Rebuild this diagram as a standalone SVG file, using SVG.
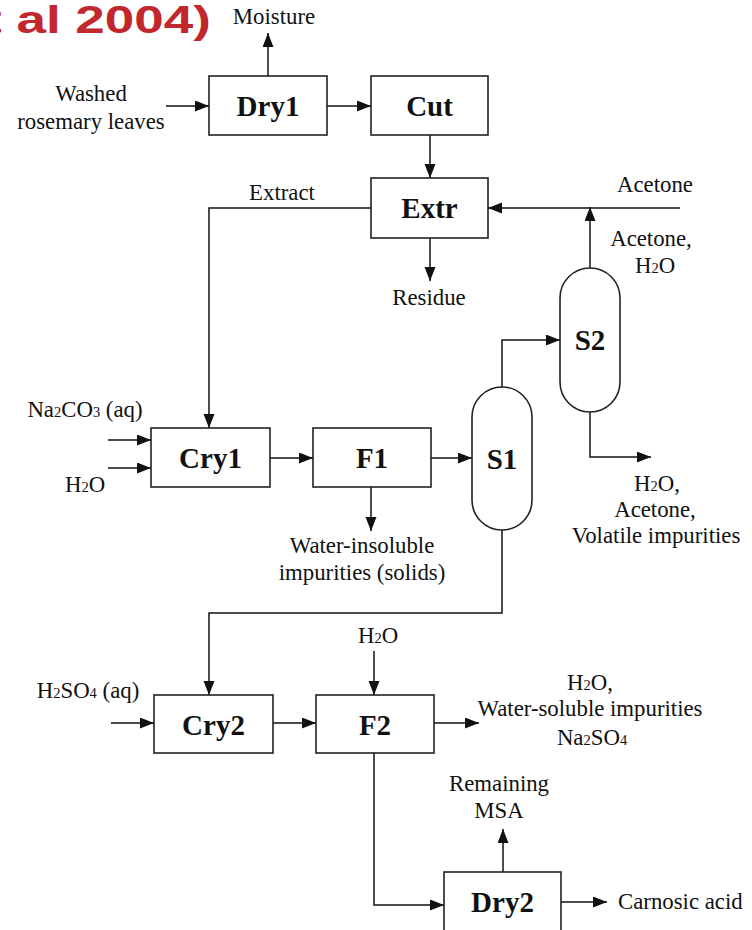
<svg xmlns="http://www.w3.org/2000/svg" width="752" height="930" viewBox="0 0 752 930">
<style>
.box{fill:#fff;stroke:#222;stroke-width:1.6}
.ln{fill:none;stroke:#111;stroke-width:1.5}
.lb{font-family:"Liberation Serif",serif;font-size:22.8px;fill:#111;text-anchor:middle}
.nl{font-family:"Liberation Serif",serif;font-size:29px;font-weight:bold;fill:#111;text-anchor:middle}
.sub{font-size:14.5px}
.ttl{font-family:"Liberation Sans",Arial,sans-serif;font-size:39px;font-weight:bold;fill:#C1272D;text-anchor:end}
</style>
<defs>
<marker id="ah" markerUnits="userSpaceOnUse" markerWidth="16" markerHeight="12" refX="14" refY="5.5" orient="auto">
<path d="M0,0 L14,5.5 L0,11 Z" fill="#111"/>
</marker>
</defs>
<rect width="752" height="930" fill="#fff"/>
<text class="ttl" transform="translate(211,33) scale(1.36,1)" x="0" y="0">et al 2004)</text>

<g id="connectors">
<path class="ln" d="M268,76 V33" marker-end="url(#ah)"/>
<path class="ln" d="M166,106 H209" marker-end="url(#ah)"/>
<path class="ln" d="M327,106 H371" marker-end="url(#ah)"/>
<path class="ln" d="M430,135 V178" marker-end="url(#ah)"/>
<path class="ln" d="M430,238 V281" marker-end="url(#ah)"/>
<path class="ln" d="M371,208 H209 V428" marker-end="url(#ah)"/>
<path class="ln" d="M680,208 H488" marker-end="url(#ah)"/>
<path class="ln" d="M590,268 V207" marker-end="url(#ah)"/>
<path class="ln" d="M502,387 V340 H560" marker-end="url(#ah)"/>
<path class="ln" d="M590,412 V457 H651" marker-end="url(#ah)"/>
<path class="ln" d="M108,440 H151" marker-end="url(#ah)"/>
<path class="ln" d="M108,468 H151" marker-end="url(#ah)"/>
<path class="ln" d="M270,458 H313" marker-end="url(#ah)"/>
<path class="ln" d="M431,458 H472" marker-end="url(#ah)"/>
<path class="ln" d="M371,487 V531" marker-end="url(#ah)"/>
<path class="ln" d="M502,530 V613 H209 V695" marker-end="url(#ah)"/>
<path class="ln" d="M111,723 H154" marker-end="url(#ah)"/>
<path class="ln" d="M273,723 H316" marker-end="url(#ah)"/>
<path class="ln" d="M374,651 V695" marker-end="url(#ah)"/>
<path class="ln" d="M434,723 H479" marker-end="url(#ah)"/>
<path class="ln" d="M374,753 V905 H444" marker-end="url(#ah)"/>
<path class="ln" d="M503,872 V829" marker-end="url(#ah)"/>
<path class="ln" d="M561,902 H607" marker-end="url(#ah)"/>
</g>

<g id="Dry1"><rect class="box" x="209" y="76" width="118" height="59"/><text class="nl" x="268" y="116">Dry1</text></g>
<g id="Cut"><rect class="box" x="371" y="76" width="117" height="59"/><text class="nl" x="429.5" y="116">Cut</text></g>
<g id="Extr"><rect class="box" x="371" y="178" width="117" height="60"/><text class="nl" x="429.5" y="218">Extr</text></g>
<g id="Cry1"><rect class="box" x="151" y="428" width="119" height="59"/><text class="nl" x="210.5" y="468">Cry1</text></g>
<g id="F1"><rect class="box" x="313" y="428" width="118" height="59"/><text class="nl" x="372" y="468">F1</text></g>
<g id="S1"><rect class="box" x="472" y="387" width="60" height="143" rx="30" ry="30"/><text class="nl" x="502" y="469">S1</text></g>
<g id="S2"><rect class="box" x="560" y="268" width="60" height="144" rx="30" ry="30"/><text class="nl" x="590" y="350">S2</text></g>
<g id="Cry2"><rect class="box" x="154" y="695" width="119" height="58"/><text class="nl" x="213.5" y="735">Cry2</text></g>
<g id="F2"><rect class="box" x="316" y="695" width="118" height="58"/><text class="nl" x="375" y="735">F2</text></g>
<g id="Dry2"><rect class="box" x="444" y="872" width="117" height="64"/><text class="nl" x="502.5" y="912">Dry2</text></g>

<g id="labels">
<text class="lb" x="274" y="24">Moisture</text>
<text class="lb" x="91" y="101">Washed</text>
<text class="lb" x="91" y="129">rosemary leaves</text>
<text class="lb" x="282" y="200">Extract</text>
<text class="lb" x="429" y="305">Residue</text>
<text class="lb" x="655" y="192">Acetone</text>
<text class="lb" x="651" y="246">Acetone,</text>
<text class="lb" x="655" y="273">H<tspan class="sub">2</tspan>O</text>
<text class="lb" x="85" y="417">Na<tspan class="sub">2</tspan>CO<tspan class="sub">3</tspan> (aq)</text>
<text class="lb" x="85" y="492">H<tspan class="sub">2</tspan>O</text>
<text class="lb" x="362" y="553">Water-insoluble</text>
<text class="lb" x="362" y="580">impurities (solids)</text>
<text class="lb" x="657" y="491">H<tspan class="sub">2</tspan>O,</text>
<text class="lb" x="655" y="517">Acetone,</text>
<text class="lb" x="656" y="543">Volatile impurities</text>
<text class="lb" x="378" y="643">H<tspan class="sub">2</tspan>O</text>
<text class="lb" x="88" y="698">H<tspan class="sub">2</tspan>SO<tspan class="sub">4</tspan> (aq)</text>
<text class="lb" x="590" y="690">H<tspan class="sub">2</tspan>O,</text>
<text class="lb" x="590" y="716">Water-soluble impurities</text>
<text class="lb" x="592" y="745">Na<tspan class="sub">2</tspan>SO<tspan class="sub">4</tspan></text>
<text class="lb" x="499" y="791">Remaining</text>
<text class="lb" x="499" y="818">MSA</text>
<text class="lb" x="618" y="909" style="text-anchor:start">Carnosic acid</text>
</g>
</svg>
